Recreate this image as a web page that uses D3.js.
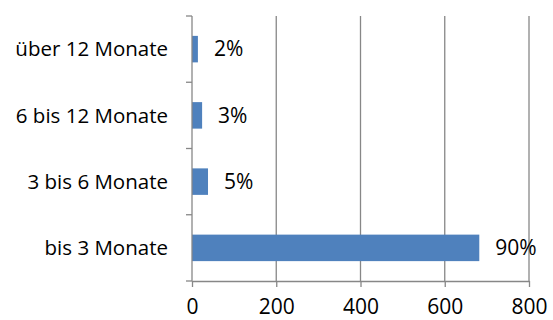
<!DOCTYPE html>
<html>
<head>
<meta charset="utf-8">
<script src="https://cdn.jsdelivr.net/npm/d3@7"></script>
<style>
  html, body { margin: 0; padding: 0; background: #fff; }
  svg { display: block; }
</style>
</head>
<body>
<div id="chart"></div>
<script>
// Horizontal bar chart: Dauer (Monate), Werte mit Prozent-Labels

const categories = ["bis 3 Monate", "3 bis 6 Monate", "6 bis 12 Monate", "über 12 Monate"];
const values     = [682, 38, 24, 14];
const pctLabels  = ["90%", "5%", "3%", "2%"];
const xTicks     = [0, 200, 400, 600, 800];

const W = 553, H = 320;
const m = { top: 16, right: 24, bottom: 39, left: 192 };
const iw = W - m.left - m.right;
const ih = H - m.top - m.bottom;

const FONT = "'Open Sans', sans-serif";
const BAR  = "#4f81bd";
const GRID = "#878787";

const data = categories.map((c, i) => ({ cat: c, value: values[i], label: pctLabels[i] }));

const x = d3.scaleLinear().domain([0, 800]).range([0, iw]);
const y = d3.scaleBand()
  .domain(categories.slice().reverse())
  .range([0, ih])
  .paddingInner(0.6)
  .paddingOuter(0.3);

const svg = d3.select("#chart").append("svg")
  .attr("width", W)
  .attr("height", H);

const g = svg.append("g").attr("transform", `translate(${m.left},${m.top})`);

// Vertical grid lines
xTicks.filter(t => t > 0).forEach(t => {
  g.append("line")
    .attr("x1", x(t)).attr("x2", x(t))
    .attr("y1", 0).attr("y2", ih)
    .attr("stroke", GRID)
    .attr("stroke-width", 1.3);
});

// Bars
g.selectAll("rect.bar")
  .data(data)
  .join("rect")
    .attr("class", "bar")
    .attr("x", 0)
    .attr("y", d => y(d.cat))
    .attr("width", d => x(d.value))
    .attr("height", y.bandwidth())
    .attr("fill", BAR);

// Value labels
g.selectAll("text.val")
  .data(data)
  .join("text")
    .attr("class", "val")
    .attr("x", d => x(d.value) + 16)
    .attr("y", d => y(d.cat) + y.bandwidth() / 2)
    .attr("dy", "0.35em")
    .attr("fill", "#000")
    .attr("font-size", "21px")
    .attr("font-family", FONT)
    .text(d => d.label);

// Y axis (category boundaries as ticks)
const yAxisG = g.append("g");
yAxisG.append("line")
  .attr("x1", 0).attr("x2", 0)
  .attr("y1", 0).attr("y2", ih)
  .attr("stroke", GRID).attr("stroke-width", 1.3);
const step = ih / categories.length;
d3.range(categories.length + 1).forEach(i => {
  yAxisG.append("line")
    .attr("x1", -6).attr("x2", 0)
    .attr("y1", i * step).attr("y2", i * step)
    .attr("stroke", GRID).attr("stroke-width", 1.3);
});
data.forEach(d => {
  yAxisG.append("text")
    .attr("x", -24)
    .attr("y", y(d.cat) + y.bandwidth() / 2)
    .attr("dy", "0.35em")
    .attr("text-anchor", "end")
    .attr("fill", "#000")
    .attr("font-size", "20.5px")
    .attr("font-family", FONT)
    .text(d.cat);
});

// X axis
const xAxisG = g.append("g")
  .attr("transform", `translate(0,${ih})`)
  .call(d3.axisBottom(x).tickValues(xTicks).tickSize(6).tickPadding(12).tickSizeOuter(0));

xAxisG.select(".domain").attr("stroke", GRID).attr("stroke-width", 1.3);
xAxisG.selectAll(".tick line").attr("stroke", GRID).attr("stroke-width", 1.3);
xAxisG.selectAll("text")
  .attr("fill", "#000")
  .attr("font-size", "21px")
  .attr("font-family", FONT);
</script>
</body>
</html>
